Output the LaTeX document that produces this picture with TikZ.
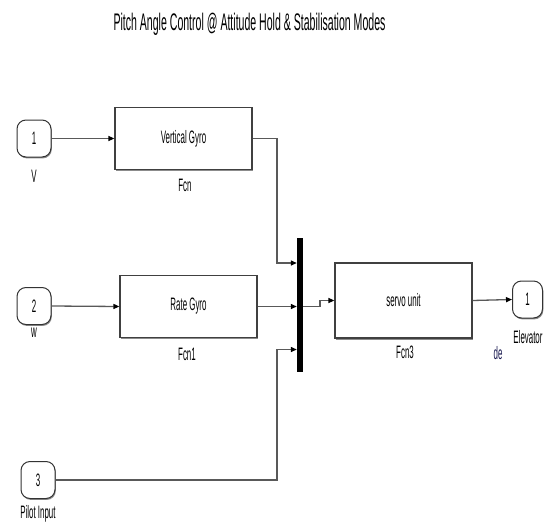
\documentclass[tikz,border=0pt]{standalone}
\usepackage{fontspec}
\setmainfont{Liberation Sans}[FakeStretch=0.44]
\usetikzlibrary{arrows.meta,shadows}
\begin{document}
\begin{tikzpicture}[x=1pt,y=-1pt,
  wire/.style={draw=black!65, line width=1.3pt},
  sig/.style={wire, -{Triangle[length=6pt,width=5pt,color=black]}},
  fcnbox/.style={draw=black!75, line width=1.2pt, fill=white,
    minimum width=137pt, minimum height=62pt, inner sep=0pt,
    drop shadow={shadow xshift=1pt, shadow yshift=-1.6pt, fill=black!45, opacity=1},
    font=\fontsize{18}{18}\selectfont},
  port/.style={draw=black!80, line width=1pt, rounded corners=9pt, fill=white,
    minimum width=34pt, minimum height=37pt, inner sep=0pt,
    drop shadow={shadow xshift=0.8pt, shadow yshift=-1.4pt, fill=black!45, opacity=1},
    font=\fontsize{18}{18}\selectfont},
  lbl/.style={inner sep=0pt, font=\fontsize{18}{18}\selectfont},
  muxbar/.style={fill=black, draw=none, minimum width=6pt, minimum height=134pt, inner sep=0pt}
]
\useasboundingbox (0,0) rectangle (554,522);

% title
\node[inner sep=0pt, font=\fontsize{24}{24}\selectfont] (title) at (249.5,24)
  {Pitch Angle Control @ Attitude Hold \& Stabilisation Modes};

% input ports
\node[port] (in1) at (34,138.5) {1};
\node[lbl] (in1l) at (34,176) {V};
\node[port] (in2) at (34,306) {2};
\node[lbl] (in2l) at (34,333) {w};
\node[port] (in3) at (38,480) {3};
\node[lbl] (in3l) at (38,514) {Pilot Input};

% function blocks
\node[fcnbox] (vg) at (183.5,138.5) {Vertical Gyro};
\node[lbl] (vgl) at (185,185) {Fcn};
\node[fcnbox] (rg) at (188.5,306.5) {Rate Gyro};
\node[lbl] (rgl) at (187,354) {Fcn1};
\node[fcnbox, minimum height=75pt] (sv) at (403.5,300.5) {servo unit};
\node[lbl] (svl) at (405,352) {Fcn3};

% mux bar
\node[muxbar] (mux) at (300,305) {};
\coordinate (m1) at (mux.west|-0,263);
\coordinate (m2) at (mux.west|-0,306.5);
\coordinate (m3) at (mux.west|-0,349.5);
\coordinate (mo) at (mux.east|-0,306.5);

% output port
\node[port, minimum width=30pt] (out1) at (527.5,299.5) {1};
\node[lbl] (out1l) at (528,337) {Elevator};
\node[lbl, text={rgb,255:red,25;green,25;blue,80}] (del) at (498,353) {de};

% connections
\draw[sig] (in1.east) -- (vg.west);
\draw[sig] (vg.east) -- (277,138.5) |- (m1);
\draw[sig] (in2.east) -- (rg.west);
\draw[sig] (rg.east) -- (m2);
\draw[sig] (in3.east) -- (277,480) |- (m3);
\draw[sig] (mo) -- (320,306.5) |- (sv.west);
\draw[sig] (sv.east) -- (out1.west);
\end{tikzpicture}
\end{document}
